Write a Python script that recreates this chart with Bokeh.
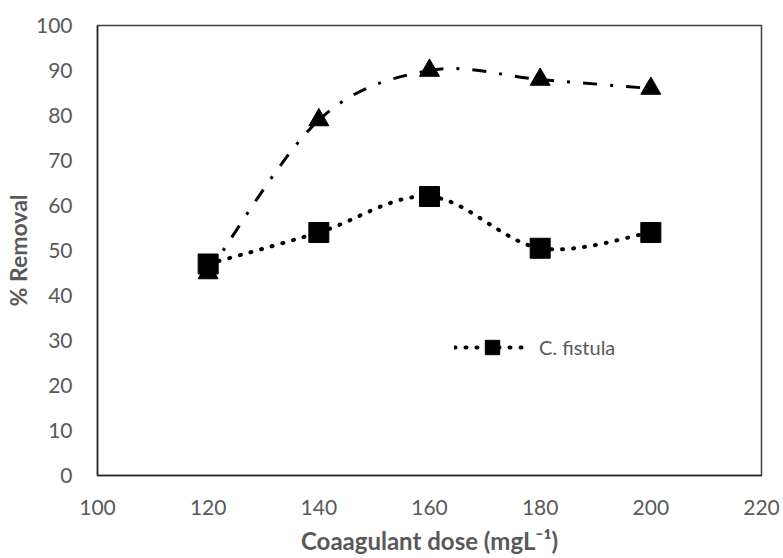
from bokeh.plotting import figure
from bokeh.models import Range1d, FixedTicker, Legend, LegendItem, ColumnDataSource
from bokeh.embed import file_html
from bokeh.resources import INLINE

doses = [120, 140, 160, 180, 200]
series_triangle = [45, 79, 90, 88, 86]
series_square = [47, 54, 62, 50.5, 54]
x_ticks = [100, 120, 140, 160, 180, 200, 220]
y_ticks = [0, 10, 20, 30, 40, 50, 60, 70, 80, 90, 100]
legend_label = "C. fistula"
x_title = "Coaagulant dose (mgL\u207b\u00b9)"
y_title = "% Removal"


def smooth_segments(xs, ys):
    # Catmull-Rom style bezier control points (like a spreadsheet "smoothed line")
    n = len(xs)
    d = dict(x0=[], y0=[], x1=[], y1=[], cx0=[], cy0=[], cx1=[], cy1=[])
    for i in range(n - 1):
        ip = max(i - 1, 0)
        inn = min(i + 2, n - 1)
        d["x0"].append(xs[i]); d["y0"].append(ys[i])
        d["x1"].append(xs[i + 1]); d["y1"].append(ys[i + 1])
        d["cx0"].append(xs[i] + (xs[i + 1] - xs[ip]) / 6)
        d["cy0"].append(ys[i] + (ys[i + 1] - ys[ip]) / 6)
        d["cx1"].append(xs[i + 1] - (xs[inn] - xs[i]) / 6)
        d["cy1"].append(ys[i + 1] - (ys[inn] - ys[i]) / 6)
    return ColumnDataSource(d)


p = figure(width=783, height=558, output_backend="svg", toolbar_location=None,
           x_range=Range1d(100, 220), y_range=Range1d(0, 100),
           min_border_left=96, min_border_right=22, min_border_top=25, min_border_bottom=83)

p.xgrid.visible = False
p.ygrid.visible = False
p.outline_line_color = "#404040"
p.outline_line_width = 1.5
p.background_fill_color = "white"
p.border_fill_color = "white"

for ax in (p.xaxis[0], p.yaxis[0]):
    ax.axis_line_color = "#262626"
    ax.axis_line_width = 1.5
    ax.major_tick_line_color = None
    ax.minor_tick_line_color = None
    ax.major_label_text_font = "Lato"
    ax.major_label_text_font_size = "21px"
    ax.major_label_text_color = "#595959"
    ax.axis_label_text_font = "Lato"
    ax.axis_label_text_font_style = "bold"
    ax.axis_label_text_color = "#595959"

p.xaxis.axis_label_text_font_size = "24px"
p.yaxis.axis_label_text_font_size = "23px"
p.xaxis.ticker = FixedTicker(ticks=x_ticks)
p.yaxis.ticker = FixedTicker(ticks=y_ticks)
p.xaxis.major_label_standoff = 18
p.yaxis.major_label_standoff = 19
p.xaxis.axis_label = x_title
p.yaxis.axis_label = y_title
p.xaxis.axis_label_standoff = 8
p.yaxis.axis_label_standoff = 1

# triangle series
tri_src = smooth_segments(doses, series_triangle)
p.bezier(x0="x0", y0="y0", x1="x1", y1="y1", cx0="cx0", cy0="cy0", cx1="cx1", cy1="cy1",
         source=tri_src, line_color="black", line_width=3, line_dash="14 13 3 13")
p.scatter(doses, series_triangle, marker="triangle", size=20, fill_color="black", line_color="black")

# square series
sq_src = smooth_segments(doses, series_square)
sq_line = p.bezier(x0="x0", y0="y0", x1="x1", y1="y1", cx0="cx0", cy0="cy0", cx1="cx1", cy1="cy1",
                   source=sq_src, line_color="black", line_width=4, line_dash="1 10",
                   line_cap="round")
sq_pts = p.scatter(doses, series_square, marker="square", size=20, fill_color="black", line_color="black")

legend = Legend(items=[LegendItem(label=legend_label, renderers=[sq_line, sq_pts])],
                location=(357, 110), border_line_color=None, background_fill_alpha=0,
                padding=0, margin=0, glyph_width=76, glyph_height=36, label_height=36,
                label_standoff=9, label_text_font="Lato", label_text_font_size="20px",
                label_text_color="#595959")
p.add_layout(legend)

open("out.html", "w").write(file_html(p, INLINE))
